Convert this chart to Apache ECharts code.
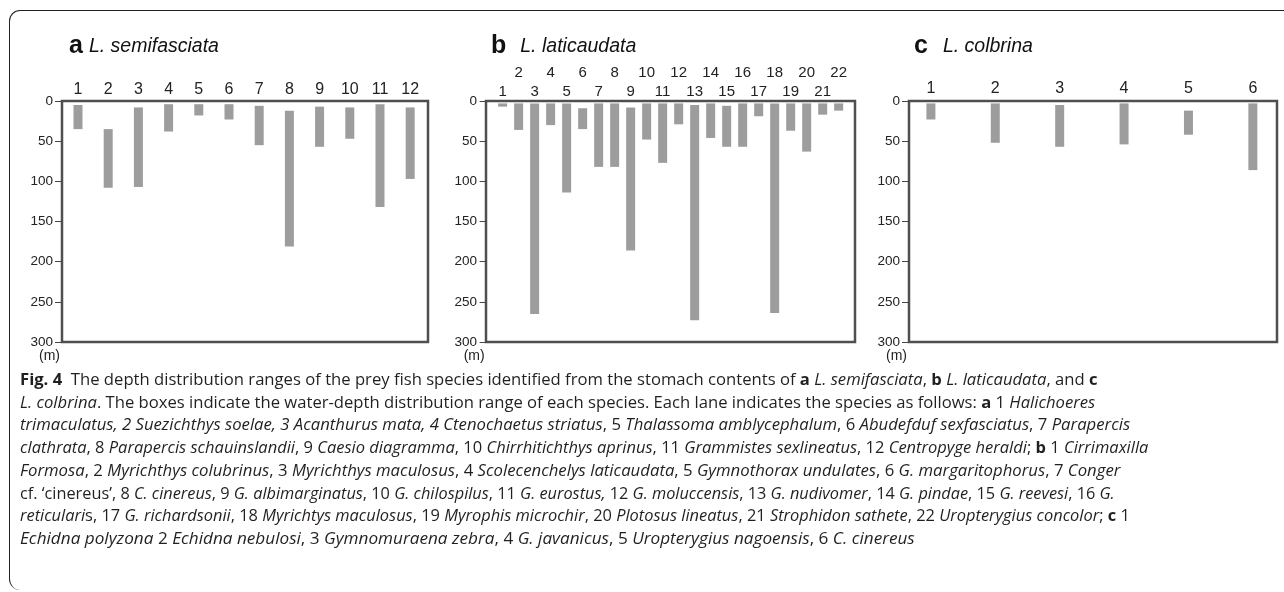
<!DOCTYPE html>
<html>
<head>
<meta charset="utf-8">
<script src="https://cdn.jsdelivr.net/npm/echarts@6/dist/echarts.min.js"></script>
<style>
  html, body { margin: 0; padding: 0; background: #fff; }
  #wrap { position: relative; width: 1284px; height: 592px; overflow: hidden; }
  #chart { position: absolute; left: 0; top: 0; width: 1284px; height: 372px; }
  #frame {
    position: absolute; left: 9px; top: 10px; width: 1300px; height: 579px;
    border-left: 1.3px solid #222; border-top: 1.3px solid #222;
    border-top-left-radius: 11px; border-bottom-left-radius: 11px;
  }
  #caption { position: absolute; left: 20px; top: 367px; font-family: "Open Sans", "Noto Sans", sans-serif; font-size: 16.5px; color: #231f20; }
  #caption .ln { position: absolute; left: 0; white-space: nowrap; transform-origin: 0 50%; line-height: 24px; }
  #caption b { font-weight: bold; }
</style>
</head>
<body>
<div id="wrap">
  <div id="frame"></div>
  <div id="chart"></div>
  <div id="caption">
    <div class="ln" data-w="1078" style="top:0px"><b>Fig. 4</b>&nbsp; The depth distribution ranges of the prey fish species identified from the stomach contents of <b>a</b> <i>L. semifasciata</i>, <b>b</b> <i>L. laticaudata</i>, and <b>c</b></div>
    <div class="ln" data-w="1075" style="top:22.7px"><i>L. colbrina</i>. The boxes indicate the water-depth distribution range of each species. Each lane indicates the species as follows: <b>a</b> 1 <i>Halichoeres</i></div>
    <div class="ln" data-w="1110" style="top:45.4px"><i>trimaculatus, 2 Suezichthys soelae, 3 Acanthurus mata, 4 Ctenochaetus striatus</i>, 5 <i>Thalassoma amblycephalum</i>, 6 <i>Abudefduf sexfasciatus</i>, 7 <i>Parapercis</i></div>
    <div class="ln" data-w="1128" style="top:68.1px"><i>clathrata</i>, 8 <i>Parapercis schauinslandii</i>, 9 <i>Caesio diagramma</i>, 10 <i>Chirrhitichthys aprinus</i>, 11 <i>Grammistes sexlineatus</i>, 12 <i>Centropyge heraldi</i>; <b>b</b> 1 <i>Cirrimaxilla</i></div>
    <div class="ln" data-w="1100" style="top:90.8px"><i>Formosa</i>, 2 <i>Myrichthys colubrinus</i>, 3 <i>Myrichthys maculosus</i>, 4 <i>Scolecenchelys laticaudata</i>, 5 <i>Gymnothorax undulates</i>, 6 <i>G. margaritophorus</i>, 7 <i>Conger</i></div>
    <div class="ln" data-w="1095" style="top:113.5px">cf. ‘cinereus’, 8 <i>C. cinereus</i>, 9 <i>G. albimarginatus</i>, 10 <i>G. chilospilus</i>, 11 <i>G. eurostus,</i> 12 <i>G. moluccensis</i>, 13 <i>G. nudivomer</i>, 14 <i>G. pindae</i>, 15 <i>G. reevesi</i>, 16 <i>G.</i></div>
    <div class="ln" data-w="1110" style="top:136.2px"><i>reticulari</i>s, 17 <i>G. richardsonii</i>, 18 <i>Myrichtys maculosus</i>, 19 <i>Myrophis microchir</i>, 20 <i>Plotosus lineatus</i>, 21 <i>Strophidon sathete</i>, 22 <i>Uropterygius concolor</i>; <b>c</b> 1</div>
    <div class="ln" data-w="895" style="top:158.9px"><i>Echidna polyzona</i> 2 <i>Echidna nebulosi</i>, 3 <i>Gymnomuraena zebra</i>, 4 <i>G. javanicus</i>, 5 <i>Uropterygius nagoensis</i>, 6 <i>C. cinereus</i></div>
  </div>
</div>
<script>
// lane numbers and depth ranges (m)
var lanesA = [1, 2, 3, 4, 5, 6, 7, 8, 9, 10, 11, 12];
var topA = [5, 35, 8, 4, 4, 4, 6, 12, 7, 8, 4, 8];
var bottomA = [35, 108, 107, 38, 18, 23, 55, 181, 57, 47, 132, 97];

var lanesB = [1, 2, 3, 4, 5, 6, 7, 8, 9, 10, 11, 12, 13, 14, 15, 16, 17, 18, 19, 20, 21, 22];
var topB = [3, 3, 3, 3, 3, 9, 3, 3, 8, 3, 3, 3, 5, 3, 6, 3, 3, 3, 3, 3, 3, 3];
var bottomB = [7, 36, 265, 30, 114, 35, 82, 82, 186, 48, 77, 29, 273, 46, 57, 57, 19, 264, 37, 63, 17, 12];

var lanesC = [1, 2, 3, 4, 5, 6];
var topC = [3, 3, 5, 3, 12, 3];
var bottomC = [23, 52, 57, 54, 42, 86];

var font = '"Liberation Sans", Arial, sans-serif';
var barColor = '#9d9d9d';

function rangeData(lanes, tops, bottoms) {
    var out = [];
    for (var i = 0; i < lanes.length; i++) {
        out.push([lanes[i], tops[i], bottoms[i]]);
    }
    return out;
}

function renderRange(params, api) {
    var x = api.value(0);
    var p0 = api.coord([x, api.value(1)]);
    var p1 = api.coord([x, api.value(2)]);
    var w = 9;
    return {
        type: 'rect',
        shape: { x: p0[0] - w / 2, y: p0[1], width: w, height: p1[1] - p0[1] },
        style: { fill: barColor }
    };
}

function yAx(gi) {
    return {
        gridIndex: gi, type: 'value', inverse: true, min: 0, max: 300, interval: 50,
        axisLine: { show: false },
        axisTick: { show: true, length: 7, lineStyle: { color: '#444', width: 1 } },
        axisLabel: { margin: 9, fontSize: 13.5, color: '#222', fontFamily: font },
        splitLine: { show: false },
        name: '(m)', nameLocation: 'end', nameGap: 5,
        nameTextStyle: { fontSize: 14, color: '#222', fontFamily: font, align: 'right', verticalAlign: 'top', padding: [0, 2, 0, 0] }
    };
}

function xAx(gi, min, max, labels, size, margin, offset) {
    return {
        gridIndex: gi, type: 'value', position: 'top', min: min, max: max, offset: offset || 0,
        axisLine: { show: false }, axisTick: { show: false }, splitLine: { show: false },
        axisLabel: { customValues: labels, fontSize: size, margin: margin, color: '#222', fontFamily: font }
    };
}

var oddB = lanesB.filter(function (v) { return v % 2 == 1; });
var evenB = lanesB.filter(function (v) { return v % 2 == 0; });

function title(x, letter, gap, name) {
    return {
        left: x, top: 29,
        text: '{l|' + letter + '}{s|' + name + '}',
        textStyle: {
            rich: {
                l: { fontSize: 25, fontWeight: 'bold', color: '#111', fontFamily: font, padding: [0, gap, 0, 0] },
                s: { fontSize: 19.5, fontWeight: 'normal', fontStyle: 'italic', color: '#111', fontFamily: font }
            }
        }
    };
}

var myChart = echarts.init(document.getElementById('chart'));
var option = {
    animation: false,
    title: [
        title(64, 'a', 6, 'L. semifasciata'),
        title(486, 'b', 14, 'L. laticaudata'),
        title(909, 'c', 15, 'L. colbrina')
    ],
    grid: [
        { left: 62, top: 101, width: 366, height: 241, show: true, borderColor: '#4f4f4f', borderWidth: 2.5 },
        { left: 486, top: 101, width: 369, height: 241, show: true, borderColor: '#4f4f4f', borderWidth: 2.5 },
        { left: 909, top: 101, width: 368, height: 241, show: true, borderColor: '#4f4f4f', borderWidth: 2.5 }
    ],
    xAxis: [
        xAx(0, 0.47, 12.59, lanesA, 16, 3),
        xAx(1, -0.04, 23.02, oddB, 15, 2),
        xAx(1, -0.04, 23.02, evenB, 15, 2, 19),
        xAx(2, 0.66, 6.375, lanesC, 16, 4)
    ],
    yAxis: [yAx(0), yAx(1), yAx(2)],
    series: [
        { type: 'custom', xAxisIndex: 0, yAxisIndex: 0, renderItem: renderRange, encode: { x: 0, y: [1, 2] }, data: rangeData(lanesA, topA, bottomA) },
        { type: 'custom', xAxisIndex: 1, yAxisIndex: 1, renderItem: renderRange, encode: { x: 0, y: [1, 2] }, data: rangeData(lanesB, topB, bottomB) },
        { type: 'custom', xAxisIndex: 3, yAxisIndex: 2, renderItem: renderRange, encode: { x: 0, y: [1, 2] }, data: rangeData(lanesC, topC, bottomC) }
    ]
};
myChart.setOption(option);

// squeeze each caption line to the width it has in the figure
var lines = document.querySelectorAll('#caption .ln');
for (var i = 0; i < lines.length; i++) {
    var w = +lines[i].getAttribute('data-w');
    var s = w / lines[i].offsetWidth;
    lines[i].style.transform = 'scaleX(' + s + ')';
}
</script>
</body>
</html>
